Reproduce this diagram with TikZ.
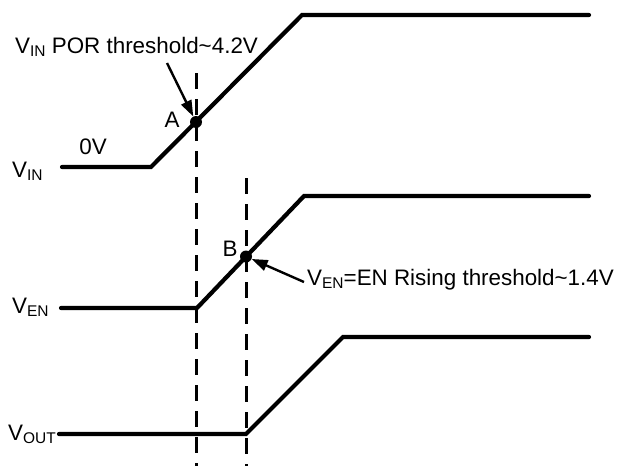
\documentclass[tikz,border=0pt]{standalone}
\usepackage{fontspec}
\setmainfont{Liberation Sans}
\usetikzlibrary{arrows.meta}
\newcommand{\lowidx}[1]{\raisebox{-3.5pt}{\fontsize{15.5}{16}\selectfont #1}}
\begin{document}
\begin{tikzpicture}[x=1pt,y=-1pt,
  font=\fontsize{22.4}{24}\selectfont,
  wave/.style={line width=4.2pt, line cap=round, line join=miter},
  guide/.style={line width=3pt, dash pattern=on 16pt off 10pt},
  arr/.style={line width=2.4pt, -{Triangle[length=16pt,width=11pt]}},
  dotmark/.style={circle, fill=black, inner sep=0pt, minimum size=12pt},
  lbl/.style={inner sep=0pt}]
\useasboundingbox (0,0) rectangle (622,466);

% waveform corner coordinates
\coordinate (in0) at (62,167);
\coordinate (in1) at (151,167);
\coordinate (in2) at (302,15);
\coordinate (in3) at (589,15);
\coordinate (en0) at (61,308);
\coordinate (en1) at (197,308);
\coordinate (en2) at (304,196);
\coordinate (en3) at (589,196);
\coordinate (out0) at (59,434);
\coordinate (out1) at (246,434);
\coordinate (out2) at (343,337);
\coordinate (out3) at (589,337);

% dashed guide lines
\coordinate (g1t) at (196,73);
\coordinate (g1b) at (196,466);
\coordinate (g2t) at (246,178);
\coordinate (g2b) at (246,466);
\draw[guide] (g1t) -- (g1b);
\draw[guide] (g2t) -- (g2b);

% waveforms
\draw[wave] (in0) -- (in1) -- (in2) -- (in3);
\draw[wave] (en0) -- (en1) -- (en2) -- (en3);
\draw[wave] (out0) -- (out1) -- (out2) -- (out3);

% threshold points
\node[dotmark] (A) at (196,122) {};
\node[dotmark] (B) at (246,256.5) {};

% labels
\node[lbl, anchor=base west] (vin) at (12,177) {V\lowidx{IN}};
\node[lbl, anchor=base west] (ven) at (12,313) {V\lowidx{EN}};
\node[lbl, anchor=base west] (vout) at (8,440) {V\lowidx{OUT}};
\node[lbl] (zero) at (93,147) {0V};
\node[lbl] (la) at (172,120) {A};
\node[lbl] (lb) at (230,248.5) {B};
\node[lbl, anchor=base west] (por) at (15,53) {V\lowidx{IN} POR threshold\textasciitilde4.2V};
\node[lbl, anchor=base west] (enr) at (307,285) {V\lowidx{EN}=EN Rising threshold\textasciitilde1.4V};

% arrows
\coordinate (tA) at (167,63);
\coordinate (tB) at (304,282);
\draw[arr] (tA) -- (A);
\draw[arr] (tB) -- (B);
\end{tikzpicture}
\end{document}
